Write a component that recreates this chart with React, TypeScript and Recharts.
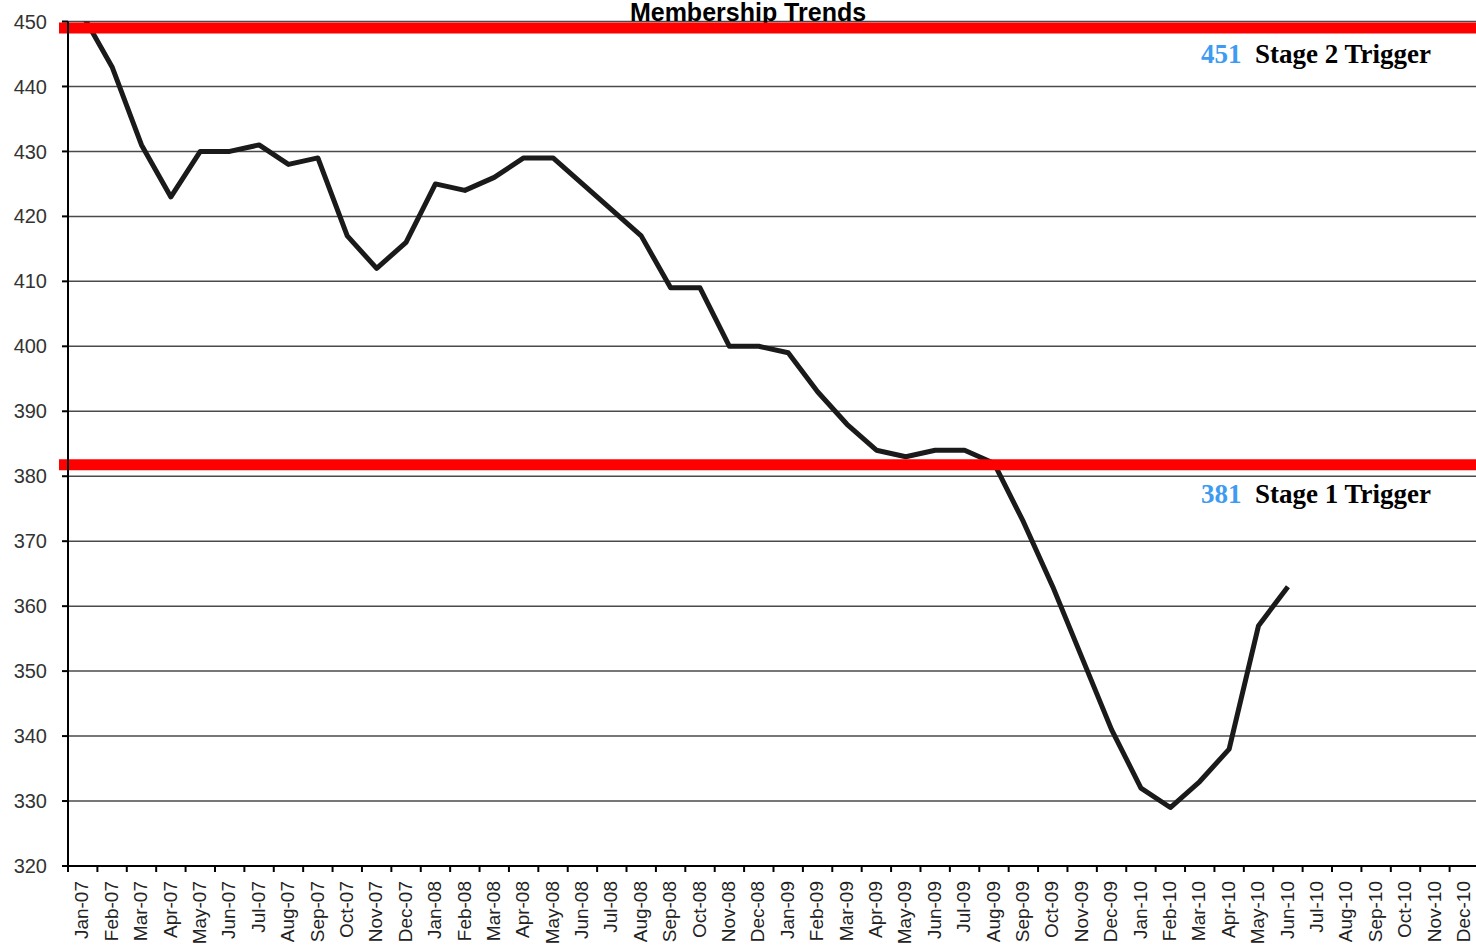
import React from 'react';
import { LineChart, Line, XAxis, YAxis, CartesianGrid, ReferenceLine } from 'recharts';

// ---------------- DATA ----------------
const months = [
  'Jan-07', 'Feb-07', 'Mar-07', 'Apr-07', 'May-07', 'Jun-07', 'Jul-07', 'Aug-07', 'Sep-07', 'Oct-07', 'Nov-07', 'Dec-07',
  'Jan-08', 'Feb-08', 'Mar-08', 'Apr-08', 'May-08', 'Jun-08', 'Jul-08', 'Aug-08', 'Sep-08', 'Oct-08', 'Nov-08', 'Dec-08',
  'Jan-09', 'Feb-09', 'Mar-09', 'Apr-09', 'May-09', 'Jun-09', 'Jul-09', 'Aug-09', 'Sep-09', 'Oct-09', 'Nov-09', 'Dec-09',
  'Jan-10', 'Feb-10', 'Mar-10', 'Apr-10', 'May-10', 'Jun-10', 'Jul-10', 'Aug-10', 'Sep-10', 'Oct-10', 'Nov-10', 'Dec-10',
];

const members = [
  451, 443, 431, 423, 430, 430, 431, 428, 429, 417, 412, 416,
  425, 424, 426, 429, 429, 425, 421, 417, 409, 409, 400, 400,
  399, 393, 388, 384, 383, 384, 384, 382, 373, 363, 352, 341,
  332, 329, 333, 338, 357, 363,
];

const yTicks = [320, 330, 340, 350, 360, 370, 380, 390, 400, 410, 420, 430, 440, 450];

// trigger lines (drawn where the original sheet placed them)
const stage2 = { y: 449, value: '451', text: 'Stage 2 Trigger' };
const stage1 = { y: 381.75, value: '381', text: 'Stage 1 Trigger' };

const data = months.map((m, i) => ({ name: m, value: i < members.length ? members[i] : null }));

// ---------------- LAYOUT ----------------
const CHART_W = 1484;
const CHART_H = 947;
const PLOT_LEFT = 68;
const PLOT_W = 1411;
const HALF_BAND = PLOT_W / months.length / 2;

const AXIS_FONT = '"Liberation Sans", Arial, sans-serif';
const LABEL_FONT = '"Liberation Serif", "Times New Roman", serif';

// ---------------- TICKS ----------------
const MonthTick = ({ x, y, payload, index }: any) => {
  const axisY = y - 8;
  const isLast = index === months.length - 1;
  return (
    <g>
      <line x1={x - HALF_BAND} y1={axisY} x2={x - HALF_BAND} y2={axisY + 6} stroke="#000" strokeWidth={2} />
      {isLast && <line x1={x + HALF_BAND} y1={axisY} x2={x + HALF_BAND} y2={axisY + 6} stroke="#000" strokeWidth={2} />}
      <text
        transform={`translate(${x - 1}, ${axisY + 15}) rotate(-90)`}
        textAnchor="end"
        dy="0.35em"
        fill="#222"
        fontSize={19}
        fontFamily={AXIS_FONT}>
        {payload.value}
      </text>
    </g>
  );
};

// ---------------- TRIGGER LINES ----------------
const TriggerShape = (props: any) => {
  const { x1, y1, x2, y2 } = props;
  return <line x1={x1 - 9} y1={y1} x2={x2} y2={y2} stroke="#FF0000" strokeWidth={11} />;
};

const triggerLabel = (t: { value: string; text: string }, dy: number) => (props: any) => {
  const { viewBox } = props;
  const right = viewBox.x + viewBox.width - 48;
  return (
    <text x={right} y={viewBox.y + dy} textAnchor="end" fontFamily={LABEL_FONT} fontWeight="bold" fontSize={27}>
      <tspan fill="#3D9BF2">{t.value}</tspan>
      <tspan fill="#000">{'\u00a0\u00a0' + t.text}</tspan>
    </text>
  );
};

// ---------------- COMPONENT ----------------
export default function App() {
  return (
    <div style={{ position: 'absolute', left: 0, top: 0, width: 1476, height: CHART_H, overflow: 'hidden', background: '#fff' }}>
      <LineChart
        width={CHART_W}
        height={CHART_H}
        data={data}
        margin={{ top: 21.5, right: CHART_W - PLOT_LEFT - PLOT_W, left: 0, bottom: 0 }}>
        <CartesianGrid vertical={false} stroke="#4a4a4a" strokeWidth={1.5} />
        <XAxis
          dataKey="name"
          interval={0}
          padding={{ left: HALF_BAND, right: HALF_BAND }}
          height={81}
          tickLine={false}
          axisLine={{ stroke: '#000', strokeWidth: 2 }}
          tick={<MonthTick />}
        />
        <YAxis
          width={PLOT_LEFT}
          domain={[320, 450]}
          ticks={yTicks}
          allowDataOverflow
          interval={0}
          tickSize={6}
          tickMargin={15}
          axisLine={{ stroke: '#000', strokeWidth: 2 }}
          tickLine={{ stroke: '#000', strokeWidth: 2 }}
          tick={{ fill: '#333', fontSize: 20, fontFamily: AXIS_FONT }}
        />
        <Line
          type="linear"
          dataKey="value"
          stroke="#1a1a1a"
          strokeWidth={5}
          strokeLinejoin="round"
          dot={false}
          connectNulls={false}
          isAnimationActive={false}
        />
        <ReferenceLine y={stage2.y} shape={<TriggerShape />} label={triggerLabel(stage2, 35)} />
        <ReferenceLine y={stage1.y} shape={<TriggerShape />} label={triggerLabel(stage1, 38)} />
        <text x={748} y={21} textAnchor="middle" fontFamily={AXIS_FONT} fontWeight="bold" fontSize={25} fill="#000">
          Membership Trends
        </text>
      </LineChart>
    </div>
  );
}
